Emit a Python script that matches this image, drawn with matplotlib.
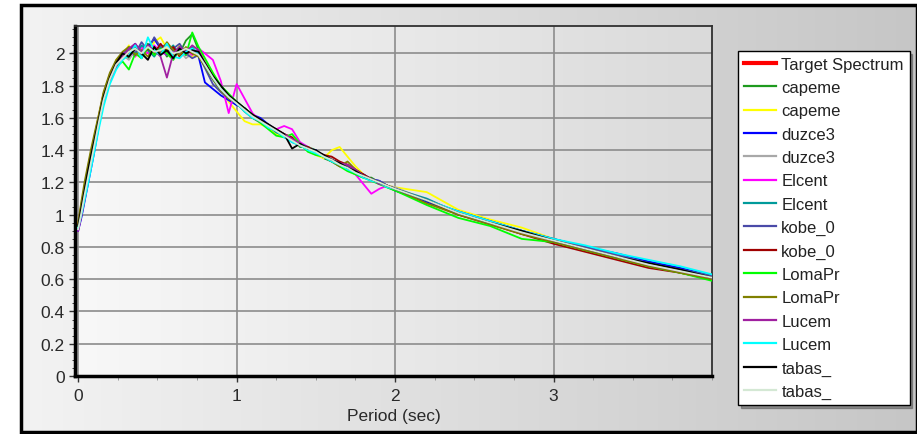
import numpy as np
import matplotlib
matplotlib.use("Agg")
import matplotlib.pyplot as plt
from matplotlib.colors import LinearSegmentedColormap
from matplotlib.patches import Rectangle
from matplotlib.ticker import MultipleLocator, FixedLocator, FuncFormatter

plt.rcParams['font.family'] = ['Liberation Sans', 'DejaVu Sans']

# ---------------- data ----------------
periods = [0.00, 0.02, 0.04, 0.06, 0.08, 0.10, 0.13, 0.16, 0.20, 0.24, 0.28, 0.32, 0.36,
           0.40, 0.44, 0.48, 0.52, 0.56, 0.60, 0.64, 0.68, 0.72, 0.76, 0.80, 0.85, 0.90, 0.95,
           1.00, 1.05, 1.10, 1.15, 1.20, 1.25, 1.30, 1.35, 1.40, 1.45, 1.50, 1.55, 1.60, 1.65,
           1.70, 1.75, 1.80, 1.85, 1.90, 1.95, 2.00,
           2.20, 2.40, 2.60, 2.80, 3.00, 3.20, 3.40, 3.60, 3.80, 4.00]

target = [0.92, 1.02, 1.12, 1.22, 1.33, 1.43, 1.58, 1.72, 1.84, 1.93, 1.98, 2.00, 2.01, 2.02, 2.02, 2.03, 2.03, 2.02, 2.02, 2.02, 2.02, 2.02, 2.00, 1.93, 1.85, 1.78, 1.73,
          1.69, 1.65, 1.61, 1.58, 1.55, 1.52, 1.49, 1.46, 1.43, 1.41, 1.39, 1.36, 1.34, 1.31, 1.29, 1.26, 1.24, 1.22, 1.20, 1.18, 1.16,
          1.09, 1.01, 0.95, 0.89, 0.84, 0.79, 0.74, 0.69, 0.65, 0.61]

capeme_a = [0.92, 1.00, 1.14, 1.25, 1.36, 1.45, 1.60, 1.74, 1.86, 1.95, 2.00, 1.97, 2.04, 1.99, 2.06, 2.01, 2.05, 1.98, 2.03, 2.00, 2.08, 2.12, 2.02, 1.95, 1.86, 1.77, 1.72,
            1.68, 1.66, 1.60, 1.57, 1.56, 1.50, 1.50, 1.47, 1.42, 1.42, 1.40, 1.35, 1.33, 1.32, 1.29, 1.25, 1.23, 1.23, 1.20, 1.17, 1.15,
            1.08, 1.00, 0.95, 0.88, 0.84, 0.78, 0.73, 0.69, 0.64, 0.60]

capeme_b = [0.93, 1.03, 1.13, 1.24, 1.35, 1.46, 1.60, 1.73, 1.83, 1.96, 1.99, 2.05, 1.98, 2.04, 2.01, 2.07, 2.10, 2.03, 1.99, 2.05, 2.01, 1.98, 2.03, 1.96, 1.88, 1.79, 1.70,
            1.64, 1.58, 1.56, 1.56, 1.54, 1.50, 1.48, 1.47, 1.44, 1.40, 1.37, 1.35, 1.40, 1.42, 1.36, 1.30, 1.25, 1.22, 1.19, 1.18, 1.17,
            1.14, 1.03, 0.97, 0.92, 0.85, 0.80, 0.74, 0.70, 0.64, 0.60]

duzce3_a = [0.90, 0.98, 1.08, 1.18, 1.28, 1.38, 1.55, 1.70, 1.83, 1.92, 1.97, 2.02, 2.06, 2.00, 2.04, 2.09, 2.03, 2.06, 2.00, 2.04, 1.99, 2.03, 1.98, 1.82, 1.78, 1.74, 1.71,
            1.68, 1.66, 1.62, 1.60, 1.56, 1.52, 1.48, 1.47, 1.44, 1.41, 1.40, 1.36, 1.34, 1.32, 1.29, 1.27, 1.25, 1.22, 1.21, 1.18, 1.15,
            1.08, 1.02, 0.96, 0.90, 0.85, 0.80, 0.76, 0.71, 0.67, 0.62]

duzce3_b = [0.92, 1.02, 1.12, 1.23, 1.34, 1.44, 1.59, 1.72, 1.85, 1.94, 1.99, 1.96, 2.02, 1.97, 2.03, 1.99, 2.05, 2.00, 1.96, 2.02, 1.97, 2.00, 2.01, 1.95, 1.86, 1.79, 1.74,
            1.70, 1.65, 1.62, 1.57, 1.54, 1.52, 1.50, 1.46, 1.44, 1.40, 1.39, 1.37, 1.35, 1.30, 1.30, 1.26, 1.24, 1.21, 1.20, 1.18, 1.17,
            1.09, 1.01, 0.95, 0.89, 0.84, 0.79, 0.74, 0.69, 0.65, 0.61]

elcent_a = [0.91, 1.01, 1.11, 1.21, 1.32, 1.42, 1.57, 1.71, 1.85, 1.94, 2.00, 2.03, 1.98, 2.04, 2.00, 2.05, 2.01, 1.99, 2.04, 2.00, 2.03, 1.99, 2.03, 2.00, 1.96, 1.83, 1.63,
            1.81, 1.72, 1.63, 1.58, 1.54, 1.53, 1.55, 1.53, 1.45, 1.42, 1.38, 1.36, 1.33, 1.30, 1.28, 1.25, 1.19, 1.13, 1.16, 1.18, 1.16,
            1.09, 1.01, 0.95, 0.89, 0.84, 0.79, 0.74, 0.69, 0.65, 0.61]

elcent_b = [0.93, 1.03, 1.13, 1.23, 1.33, 1.43, 1.58, 1.71, 1.84, 1.92, 1.97, 2.02, 1.99, 2.05, 2.02, 1.98, 2.04, 2.01, 2.05, 1.99, 2.02, 2.04, 1.99, 1.92, 1.84, 1.77, 1.73,
            1.70, 1.64, 1.61, 1.59, 1.55, 1.51, 1.49, 1.45, 1.43, 1.41, 1.38, 1.36, 1.33, 1.31, 1.28, 1.26, 1.24, 1.22, 1.19, 1.18, 1.16,
            1.10, 1.01, 0.95, 0.89, 0.83, 0.79, 0.74, 0.70, 0.66, 0.62]

kobe_a = [0.91, 1.00, 1.10, 1.20, 1.31, 1.41, 1.56, 1.70, 1.84, 1.93, 1.99, 2.04, 2.00, 2.07, 2.02, 2.10, 2.04, 1.99, 2.03, 2.06, 2.00, 1.97, 1.99, 1.91, 1.81, 1.76, 1.72,
          1.70, 1.66, 1.62, 1.58, 1.56, 1.53, 1.49, 1.46, 1.44, 1.42, 1.39, 1.37, 1.34, 1.32, 1.30, 1.26, 1.25, 1.22, 1.21, 1.18, 1.16,
          1.09, 1.02, 0.96, 0.90, 0.85, 0.80, 0.75, 0.70, 0.66, 0.62]

kobe_b = [0.94, 1.06, 1.17, 1.28, 1.38, 1.47, 1.61, 1.75, 1.87, 1.95, 1.98, 2.01, 2.04, 1.99, 2.03, 2.00, 2.06, 2.01, 2.04, 1.98, 2.03, 2.00, 1.99, 1.94, 1.86, 1.79, 1.74,
          1.69, 1.66, 1.62, 1.59, 1.55, 1.53, 1.50, 1.48, 1.43, 1.42, 1.39, 1.37, 1.36, 1.33, 1.31, 1.28, 1.25, 1.22, 1.20, 1.18, 1.16,
          1.09, 1.00, 0.94, 0.88, 0.82, 0.77, 0.72, 0.67, 0.64, 0.60]

lomapr_a = [0.92, 1.02, 1.13, 1.23, 1.34, 1.44, 1.59, 1.72, 1.84, 1.92, 1.95, 1.90, 2.00, 1.97, 2.04, 1.99, 2.03, 2.00, 1.96, 2.03, 1.99, 2.13, 2.04, 1.97, 1.88, 1.80, 1.75,
            1.70, 1.66, 1.62, 1.57, 1.53, 1.49, 1.48, 1.50, 1.44, 1.39, 1.37, 1.36, 1.33, 1.30, 1.27, 1.25, 1.23, 1.21, 1.19, 1.17, 1.15,
            1.06, 0.98, 0.93, 0.85, 0.83, 0.78, 0.73, 0.68, 0.64, 0.59]

lomapr_b = [0.95, 1.08, 1.20, 1.30, 1.40, 1.49, 1.62, 1.76, 1.88, 1.96, 2.01, 2.04, 1.99, 2.02, 1.98, 2.04, 2.00, 2.07, 2.02, 1.99, 2.04, 2.00, 1.98, 1.92, 1.84, 1.77, 1.72,
            1.69, 1.64, 1.60, 1.58, 1.56, 1.52, 1.49, 1.47, 1.44, 1.41, 1.39, 1.36, 1.33, 1.30, 1.33, 1.28, 1.24, 1.22, 1.20, 1.18, 1.16,
            1.07, 1.00, 0.94, 0.88, 0.83, 0.78, 0.73, 0.68, 0.64, 0.60]

lucem_a = [0.90, 0.99, 1.09, 1.19, 1.30, 1.40, 1.56, 1.70, 1.83, 1.92, 1.98, 2.03, 2.06, 2.01, 2.05, 2.02, 1.98, 1.85, 2.00, 2.04, 2.01, 2.05, 2.02, 1.94, 1.85, 1.78, 1.73,
           1.69, 1.65, 1.61, 1.58, 1.55, 1.52, 1.50, 1.47, 1.44, 1.41, 1.39, 1.36, 1.34, 1.32, 1.31, 1.28, 1.24, 1.22, 1.19, 1.18, 1.16,
           1.09, 1.01, 0.95, 0.89, 0.84, 0.79, 0.74, 0.69, 0.65, 0.61]

lucem_b = [0.92, 1.00, 1.09, 1.18, 1.28, 1.38, 1.53, 1.67, 1.81, 1.90, 1.96, 1.99, 2.05, 1.97, 2.10, 2.02, 1.99, 2.06, 1.98, 1.97, 2.01, 2.03, 2.00, 1.93, 1.85, 1.78, 1.73,
           1.69, 1.64, 1.60, 1.58, 1.54, 1.52, 1.48, 1.45, 1.43, 1.40, 1.38, 1.36, 1.33, 1.31, 1.28, 1.26, 1.23, 1.21, 1.20, 1.17, 1.16,
           1.09, 1.02, 0.96, 0.90, 0.85, 0.81, 0.76, 0.72, 0.68, 0.63]

tabas_a = [0.93, 1.04, 1.15, 1.26, 1.36, 1.45, 1.59, 1.73, 1.85, 1.94, 2.00, 1.98, 2.03, 2.00, 1.96, 2.04, 1.99, 2.02, 1.97, 2.03, 2.00, 2.02, 2.01, 1.94, 1.86, 1.80, 1.74,
           1.70, 1.66, 1.62, 1.59, 1.56, 1.53, 1.50, 1.41, 1.44, 1.41, 1.40, 1.37, 1.34, 1.32, 1.29, 1.27, 1.24, 1.22, 1.20, 1.18, 1.16,
           1.09, 1.01, 0.95, 0.90, 0.84, 0.79, 0.74, 0.70, 0.66, 0.61]

tabas_b = [0.91, 1.01, 1.12, 1.22, 1.32, 1.42, 1.57, 1.71, 1.84, 1.93, 1.97, 2.01, 2.03, 2.00, 2.04, 2.01, 2.02, 2.04, 2.00, 2.01, 2.03, 2.01, 1.99, 1.93, 1.85, 1.78, 1.73,
           1.69, 1.65, 1.61, 1.58, 1.55, 1.52, 1.49, 1.46, 1.43, 1.41, 1.39, 1.36, 1.34, 1.31, 1.29, 1.26, 1.24, 1.22, 1.20, 1.18, 1.16,
           1.09, 1.01, 0.95, 0.89, 0.84, 0.79, 0.74, 0.69, 0.65, 0.61]

labels = ["Target Spectrum", "capeme", "capeme", "duzce3", "duzce3", "Elcent", "Elcent",
          "kobe_0", "kobe_0", "LomaPr", "LomaPr", "Lucem", "Lucem", "tabas_", "tabas_"]
colors = ["#ff0000", "#1e9a1e", "#ffff00", "#0000ff", "#a8a8a8", "#ff00ff", "#009a9a",
          "#4a4aa8", "#a00000", "#00ff00", "#808000", "#a020a0", "#00ffff", "#000000", "#d4e8d4"]
series = [target, capeme_a, capeme_b, duzce3_a, duzce3_b, elcent_a, elcent_b,
          kobe_a, kobe_b, lomapr_a, lomapr_b, lucem_a, lucem_b, tabas_a, tabas_b]
x_ticks = [0, 1, 2, 3]

# ---------------- figure ----------------
W, H = 917, 435
fig = plt.figure(figsize=(W / 100, H / 100), dpi=100)
fig.patch.set_facecolor("white")

# background frame with gradient
bg = fig.add_axes([0, 0, 1, 1], zorder=-5)
bg.set_xlim(0, W)
bg.set_ylim(H, 0)
bg.axis("off")
grad_cmap = LinearSegmentedColormap.from_list("g", ["#f3f3f3", "#c6c6c6"])
grad = np.linspace(0, 1, 256).reshape(1, -1)
bg.imshow(grad, cmap=grad_cmap, extent=[21, W, 433, 6], aspect="auto", zorder=0)
bg.add_patch(Rectangle((21, 6), W - 21, 427, fill=False, edgecolor="black", lw=2.5, zorder=2))

# main axes
ax = fig.add_axes([75 / W, 1 - 377 / H, (712 - 75) / W, (377 - 27) / H])
ax.set_xlim(-0.02, 4.0)
ax.set_ylim(0, 2.17)
plot_cmap = LinearSegmentedColormap.from_list("p", ["#f8f8f8", "#dadada"])
ax.imshow(grad, cmap=plot_cmap, extent=[0, 1, 0, 1], transform=ax.transAxes,
          aspect="auto", zorder=0)

ax.grid(True, which="major", color="#8c8c8c", lw=1.2, zorder=1)
ax.set_axisbelow(True)

lines = []
for lab, col, vals in zip(labels, colors, series):
    ln, = ax.plot(periods, vals, color=col, lw=1.3, label=lab, zorder=3)
    lines.append(ln)

ax.xaxis.set_major_locator(FixedLocator(x_ticks))
ax.xaxis.set_minor_locator(MultipleLocator(0.25))
ax.yaxis.set_major_locator(MultipleLocator(0.2))
ax.yaxis.set_minor_locator(MultipleLocator(0.05))
ax.yaxis.set_major_formatter(FuncFormatter(lambda v, p: f"{round(v, 2):g}"))
ax.xaxis.set_major_formatter(FuncFormatter(lambda v, p: f"{round(v, 2):g}"))
ax.tick_params(axis="both", which="major", labelsize=12.5, labelcolor="#2a2a2a",
               length=4, width=1, color="#333333")
ax.tick_params(axis="x", which="major", pad=5)
ax.tick_params(axis="x", which="minor", length=3, color="#888888")
ax.tick_params(axis="y", which="minor", length=2, color="#222222")

for side in ["left", "bottom"]:
    ax.spines[side].set_linewidth(2.5)
    ax.spines[side].set_color("black")
for side in ["top", "right"]:
    ax.spines[side].set_linewidth(1.3)
    ax.spines[side].set_color("#303030")

ax.set_xlabel("Period (sec)", fontsize=12.5, color="#2a2a2a", labelpad=3)

leg = fig.legend(handles=lines, labels=labels, loc="upper left",
                 bbox_to_anchor=(738 / W, 1 - 52 / H), fontsize=12,
                 frameon=True, fancybox=False, shadow=True, framealpha=1,
                 edgecolor="black", facecolor="white", handlelength=1.9,
                 handletextpad=0.35, labelspacing=0.5, borderpad=0.35,
                 borderaxespad=0)
leg.get_frame().set_linewidth(1.0)
for i, hl in enumerate(leg.get_lines()):
    hl.set_linewidth(3.0 if i == 0 else 1.6)
for t in leg.get_texts():
    t.set_color("#222222")

fig.savefig("out.png", dpi=100)
